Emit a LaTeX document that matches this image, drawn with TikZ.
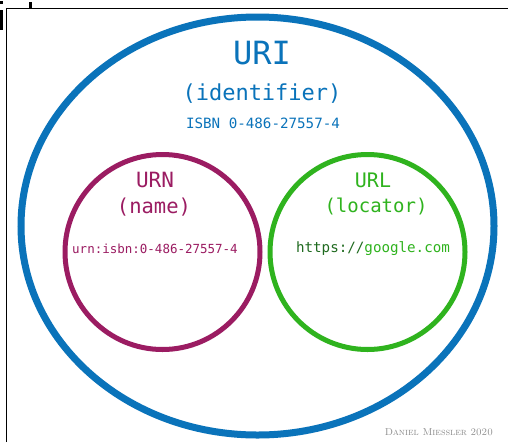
\documentclass[tikz,border=0pt]{standalone}
\usepackage{fontspec}
\newfontfamily\codefont{DejaVu Sans Mono}
\definecolor{uriblue}{HTML}{0A73BA}
\definecolor{urnpurple}{HTML}{9B1C62}
\definecolor{urlgreen}{HTML}{2FB31E}
\definecolor{urldark}{HTML}{1F6A1F}
\definecolor{signgray}{HTML}{8A8A8A}
\tikzset{
  ring/.style={draw, fill=none},
  label/.style={inner sep=0pt, anchor=center, font=\codefont},
}
\begin{document}
\begin{tikzpicture}[x=1pt, y=-1pt]
  \useasboundingbox (0,0) rectangle (508,442);
  \fill[white] (0,0) rectangle (508,442);

  % frame and clipped lettering at the top left
  \draw[line width=1.6pt, black] (6.5,442) -- (6.5,8.5) -- (508,8.5);
  \fill[black] (0,1) rectangle (3,4);
  \fill[black] (0,9.5) rectangle (3,30);
  \fill[black] (29,2) rectangle (32,8);

  % URI: the enclosing ellipse
  \draw[ring, uriblue, line width=7pt] (257.5,226) ellipse [x radius=236.5, y radius=209];
  \node[label, text=uriblue, font=\codefont\fontsize{32}{32}\selectfont] (uri) at (262,53) {URI};
  \node[label, text=uriblue, font=\codefont\fontsize{22}{22}\selectfont] (uriname) at (262,94) {(identifier)};
  \node[label, text=uriblue, font=\codefont\fontsize{14.2}{14.2}\selectfont] (uriex) at (263,123) {ISBN 0-486-27557-4};

  % URN
  \draw[ring, urnpurple, line width=5pt] (162.5,252) circle [radius=97.5];
  \node[label, text=urnpurple, font=\codefont\fontsize{21}{21}\selectfont] (urn) at (155,180) {URN};
  \node[label, text=urnpurple, font=\codefont\fontsize{20.5}{20.5}\selectfont] (urnname) at (154,207) {(name)};
  \node[label, text=urnpurple, font=\codefont\fontsize{12.5}{12.5}\selectfont] (urnex) at (155,249) {urn:isbn:0-486-27557-4};

  % URL
  \draw[ring, urlgreen, line width=5pt] (367.5,252) circle [radius=97.5];
  \node[label, text=urlgreen, font=\codefont\fontsize{20}{20}\selectfont] (url) at (373,180) {URL};
  \node[label, text=urlgreen, font=\codefont\fontsize{19}{19}\selectfont] (urlname) at (376,206) {(locator)};
  \node[label, font=\codefont\fontsize{14.2}{14.2}\selectfont] (urlex) at (373,249) {\textcolor{urldark}{https://}\textcolor{urlgreen}{google.com}};

  % signature
  \node[anchor=east, inner sep=0pt, text=signgray, font=\fontsize{10}{10}\selectfont] (sign) at (493,432) {\textsc{Daniel Miessler 2020}};
\end{tikzpicture}
\end{document}
